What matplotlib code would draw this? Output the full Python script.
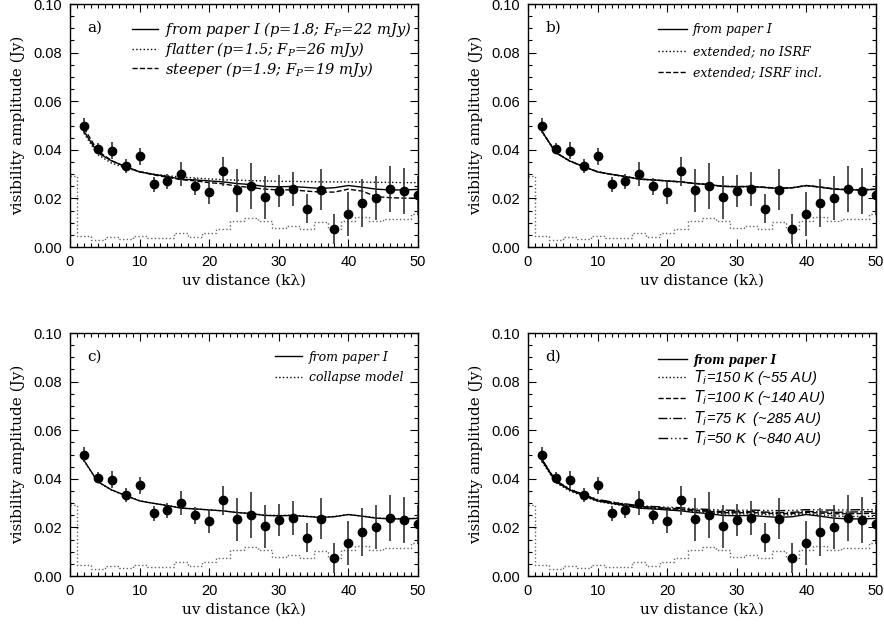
import numpy as np
import matplotlib
matplotlib.use('Agg')
import matplotlib.pyplot as plt
from matplotlib.ticker import MultipleLocator

plt.rcParams['mathtext.fontset'] = 'dejavuserif'

# ── observed visibilities (binned) ───────────────────────
uv = [2, 4, 6, 8, 10, 12, 14, 16, 18, 20, 22, 24, 26,
      28, 30, 32, 34, 36, 38, 40, 42, 44, 46, 48, 50]
amp = [0.0500, 0.0404, 0.0397, 0.0333, 0.0373, 0.0258, 0.0270, 0.0300,
       0.0251, 0.0226, 0.0312, 0.0233, 0.0251, 0.0205, 0.0230, 0.0237,
       0.0158, 0.0236, 0.0075, 0.0136, 0.0181, 0.0201, 0.0240, 0.0229,
       0.0212]
err = [0.0030, 0.0022, 0.0035, 0.0030, 0.0035, 0.0030, 0.0030, 0.0050,
       0.0035, 0.0048, 0.0060, 0.0090, 0.0095, 0.0088, 0.0065, 0.0070,
       0.0060, 0.0085, 0.0062, 0.0090, 0.0100, 0.0090, 0.0095, 0.0095,
       0.0082]

# expected amplitude for zero signal (step histogram)
uv_noise = [0] + uv
noise = [0.0293, 0.0044, 0.0030, 0.0041, 0.0034, 0.0045, 0.0038, 0.0038,
         0.0057, 0.0041, 0.0059, 0.0075, 0.0109, 0.0118, 0.0105, 0.0078,
         0.0086, 0.0075, 0.0102, 0.0075, 0.0109, 0.0122, 0.0109, 0.0116,
         0.0116, 0.0136]

# ── models ───────────────────────────────────────────────
paper1 = [0.0476, 0.0388, 0.0354, 0.0331, 0.0309, 0.0299, 0.0290, 0.0279,
          0.0276, 0.0272, 0.0268, 0.0261, 0.0257, 0.0249, 0.0248, 0.0249,
          0.0245, 0.0241, 0.0244, 0.0253, 0.0246, 0.0238, 0.0235, 0.0235,
          0.0237]
flatter = [0.0468, 0.0380, 0.0345, 0.0325, 0.0310, 0.0300, 0.0293, 0.0288,
           0.0284, 0.0280, 0.0277, 0.0275, 0.0273, 0.0272, 0.0270, 0.0270,
           0.0269, 0.0268, 0.0268, 0.0268, 0.0267, 0.0266, 0.0266, 0.0265,
           0.0265]
steeper = [0.0490, 0.0395, 0.0355, 0.0330, 0.0310, 0.0297, 0.0287, 0.0277,
           0.0272, 0.0265, 0.0260, 0.0250, 0.0245, 0.0238, 0.0235, 0.0235,
           0.0230, 0.0226, 0.0226, 0.0238, 0.0230, 0.0207, 0.0203, 0.0201,
           0.0201]
ext_no_isrf = [0.0474, 0.0387, 0.0353, 0.0330, 0.0309, 0.0298, 0.0289, 0.0279,
               0.0276, 0.0271, 0.0267, 0.0261, 0.0257, 0.0250, 0.0248, 0.0249,
               0.0245, 0.0242, 0.0244, 0.0252, 0.0246, 0.0239, 0.0236, 0.0236,
               0.0237]
ext_isrf = [0.0477, 0.0389, 0.0354, 0.0331, 0.0310, 0.0299, 0.0290, 0.0280,
            0.0276, 0.0272, 0.0268, 0.0262, 0.0257, 0.0250, 0.0249, 0.0249,
            0.0246, 0.0242, 0.0244, 0.0253, 0.0247, 0.0239, 0.0236, 0.0236,
            0.0238]
collapse = [0.0475, 0.0387, 0.0353, 0.0331, 0.0310, 0.0299, 0.0290, 0.0280,
            0.0276, 0.0272, 0.0268, 0.0262, 0.0258, 0.0250, 0.0249, 0.0250,
            0.0246, 0.0242, 0.0245, 0.0253, 0.0247, 0.0239, 0.0236, 0.0236,
            0.0238]
t150 = [0.0470, 0.0384, 0.0350, 0.0328, 0.0307, 0.0297, 0.0289, 0.0280,
        0.0277, 0.0273, 0.0270, 0.0265, 0.0262, 0.0256, 0.0255, 0.0256,
        0.0253, 0.0250, 0.0252, 0.0256, 0.0252, 0.0247, 0.0245, 0.0245,
        0.0246]
t100 = [0.0478, 0.0390, 0.0356, 0.0333, 0.0312, 0.0302, 0.0293, 0.0284,
        0.0281, 0.0277, 0.0274, 0.0269, 0.0266, 0.0261, 0.0260, 0.0261,
        0.0259, 0.0256, 0.0257, 0.0262, 0.0259, 0.0256, 0.0256, 0.0257,
        0.0258]
t75 = [0.0479, 0.0391, 0.0357, 0.0334, 0.0313, 0.0303, 0.0295, 0.0286,
       0.0283, 0.0279, 0.0277, 0.0272, 0.0269, 0.0265, 0.0264, 0.0265,
       0.0263, 0.0261, 0.0262, 0.0266, 0.0264, 0.0262, 0.0263, 0.0264,
       0.0265]
t50 = [0.0480, 0.0392, 0.0358, 0.0335, 0.0315, 0.0305, 0.0297, 0.0289,
       0.0286, 0.0283, 0.0281, 0.0276, 0.0274, 0.0271, 0.0270, 0.0271,
       0.0270, 0.0269, 0.0270, 0.0273, 0.0272, 0.0271, 0.0272, 0.0273,
       0.0273]

DASHDOTDOT = (0, (7, 2, 1, 2, 1, 2, 1, 2))

# panel label, models, legend (anchor, fontsize, handlelength, labelspacing)
panels = [
    ('a)', [(paper1, '-', r'from paper I (p=1.8; $F_P$=22 mJy)'),
            (flatter, ':', r'flatter (p=1.5; $F_P$=26 mJy)'),
            (steeper, '--', r'steeper (p=1.9; $F_P$=19 mJy)')],
     ((0.178, 0.935), 10.5, 1.8, 0.06)),
    ('b)', [(paper1, '-', 'from paper I'),
            (ext_no_isrf, ':', 'extended; no ISRF'),
            (ext_isrf, '--', 'extended; ISRF incl.')],
     ((0.374, 0.92), 9, 2.3, 0.68)),
    ('c)', [(paper1, '-', 'from paper I'),
            (collapse, ':', 'collapse model')],
     ((0.589, 0.927), 9, 2.2, 0.6)),
    ('d)', [(paper1, '-', 'from paper I'),
            (t150, ':', r'$T_i$=150 K (~55 AU)'),
            (t100, '--', r'$T_i$=100 K (~140 AU)'),
            (t75, '-.', r'$T_i$=75 K  (~285 AU)'),
            (t50, DASHDOTDOT, r'$T_i$=50 K  (~840 AU)')],
     ((0.374, 0.915), 9.5, 2.2, 0.1)),
]

W, H = 884, 626
fig = plt.figure(figsize=(W / 100, H / 100), dpi=100)
fig.patch.set_facecolor('white')

boxes = [(70, 4), (528, 4), (70, 333), (528, 333)]   # left, top in pixels
bw, bh = 348, 243

serif = 'DejaVu Serif'
for (label, models, legspec), (x0, y0) in zip(panels, boxes):
    ax = fig.add_axes([x0 / W, 1 - (y0 + bh) / H, bw / W, bh / H])

    ax.step(uv_noise, noise, where='mid', ls=':', color='0.4', lw=1.0)
    for vals, ls, name in models:
        ax.plot(uv, vals, ls=ls, color='black', lw=1.0, label=name)
    ax.errorbar(uv, amp, yerr=err, fmt='o', color='black', ms=6,
                ecolor='0.2', elinewidth=1.2, capsize=0, zorder=5)

    ax.set_xlim(0, 50)
    ax.set_ylim(0, 0.10)
    ax.xaxis.set_major_locator(MultipleLocator(10))
    ax.xaxis.set_minor_locator(MultipleLocator(1))
    ax.yaxis.set_major_locator(MultipleLocator(0.02))
    ax.yaxis.set_minor_locator(MultipleLocator(0.005))
    ax.yaxis.set_major_formatter(plt.FuncFormatter(lambda v, p: f'{v:.2f}'))
    ax.tick_params(which='both', direction='in', top=True, right=True,
                   width=0.8)
    ax.tick_params(which='major', length=6, labelsize=10.5, pad=6)
    ax.tick_params(which='minor', length=3)
    for t in ax.get_xticklabels() + ax.get_yticklabels():
        t.set_fontfamily('Liberation Sans')
    for sp in ax.spines.values():
        sp.set_linewidth(1.0)

    ax.set_xlabel('uv distance (kλ)', fontsize=11, family=serif, labelpad=3)
    ax.set_ylabel('visibility amplitude (Jy)', fontsize=11, family=serif,
                  labelpad=6)
    ax.text(0.05, 0.93, label, transform=ax.transAxes, fontsize=11,
            family=serif, va='top', ha='left')

    anchor, fsize, hlen, lsp = legspec
    leg = ax.legend(loc='upper left', bbox_to_anchor=anchor, frameon=False,
                    handlelength=hlen, handletextpad=0.5, labelspacing=lsp,
                    borderaxespad=0, borderpad=0,
                    prop={'family': serif, 'style': 'italic', 'size': fsize})
    if label == 'd)':
        texts = leg.get_texts()
        texts[0].set_fontsize(8.5)
        texts[0].set_fontweight('bold')
        for t in texts[1:]:
            t.set_fontfamily('Liberation Sans')
            t.set_math_fontfamily('dejavusans')
            t.set_fontsize(10.5)

fig.savefig('out.png', dpi=100, facecolor='white')
